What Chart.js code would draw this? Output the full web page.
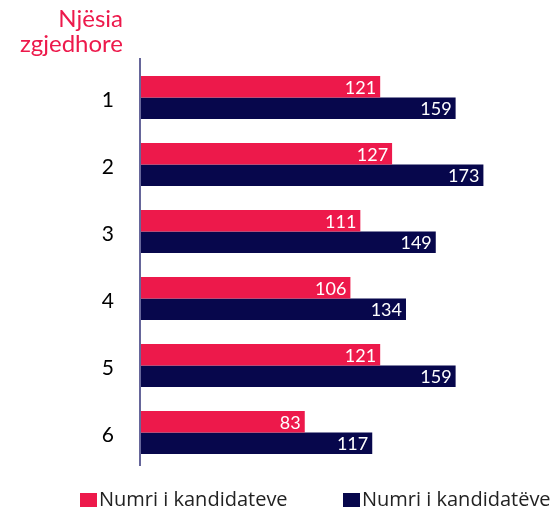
<!DOCTYPE html>
<html lang="sq">
<head>
    <meta charset="UTF-8">
    <title>Numri i kandidateve sipas njësisë zgjedhore</title>
    <script src="https://cdn.jsdelivr.net/npm/chart.js@4.4.1/dist/chart.umd.min.js"></script>
    <style>
        html, body { margin: 0; padding: 0; background: #fff; }
        #wrap { width: 552px; height: 510px; }
    </style>
</head>
<body>
<div id="wrap">
    <canvas id="myChart" width="552" height="510"></canvas>
</div>

<script>
    const PINK = '#ED194B';
    const NAVY = '#07074C';

    const units = ['1', '2', '3', '4', '5', '6'];
    const seriesA = [121, 127, 111, 106, 121, 83];
    const seriesB = [159, 173, 149, 134, 159, 117];
    const seriesNames = ['Numri i kandidateve', 'Numri i kandidatëve'];
    const titleLines = ['Njësia', 'zgjedhore'];

    // value labels, axis line, title and legend drawn on top
    const decorations = {
        id: 'decorations',
        afterDatasetsDraw(chart) {
            const ctx = chart.ctx;
            ctx.save();
            ctx.font = '18px Lato';
            ctx.fillStyle = '#fff';
            ctx.textAlign = 'right';
            ctx.textBaseline = 'middle';
            chart.data.datasets.forEach((ds, i) => {
                chart.getDatasetMeta(i).data.forEach((bar, j) => {
                    ctx.fillText(ds.data[j], bar.x - 4, bar.y + 1);
                });
            });

            const area = chart.chartArea;
            ctx.strokeStyle = '#66669a';
            ctx.lineWidth = 2;
            ctx.beginPath();
            ctx.moveTo(area.left, area.top - 6);
            ctx.lineTo(area.left, area.bottom);
            ctx.stroke();

            // title above the category ticks
            ctx.font = '24px Lato';
            ctx.fillStyle = PINK;
            ctx.textBaseline = 'alphabetic';
            ctx.fillText(titleLines[0], 123, 27);
            ctx.fillText(titleLines[1], 123, 52);

            // legend
            const legendX = [80, 343];
            ctx.textAlign = 'left';
            ctx.font = '20px "Open Sans"';
            chart.data.datasets.forEach((ds, i) => {
                ctx.fillStyle = ds.backgroundColor;
                ctx.fillRect(legendX[i], 493, 17, 14);
                ctx.fillStyle = '#222';
                ctx.fillText(ds.label, legendX[i] + 19, 506);
            });
            ctx.restore();
        }
    };

    new Chart(document.getElementById('myChart'), {
        type: 'bar',
        data: {
            labels: units,
            datasets: [{
                label: seriesNames[0],
                data: seriesA,
                backgroundColor: PINK,
                categoryPercentage: 0.642,
                barPercentage: 1
            }, {
                label: seriesNames[1],
                data: seriesB,
                backgroundColor: NAVY,
                categoryPercentage: 0.642,
                barPercentage: 1
            }]
        },
        options: {
            indexAxis: 'y',
            responsive: false,
            animation: false,
            layout: { padding: { top: 64, right: 15, bottom: 44, left: 0 } },
            scales: {
                x: {
                    display: false,
                    min: 0,
                    max: 200
                },
                y: {
                    grid: { display: false },
                    border: { display: false },
                    ticks: {
                        color: '#000',
                        font: { family: 'Lato', size: 21 },
                        padding: 18,
                        labelOffset: 3
                    },
                    afterFit(scale) { scale.width = 140; }
                }
            },
            plugins: {
                tooltip: { enabled: false },
                legend: { display: false }
            }
        },
        plugins: [decorations]
    });
</script>
</body>
</html>
